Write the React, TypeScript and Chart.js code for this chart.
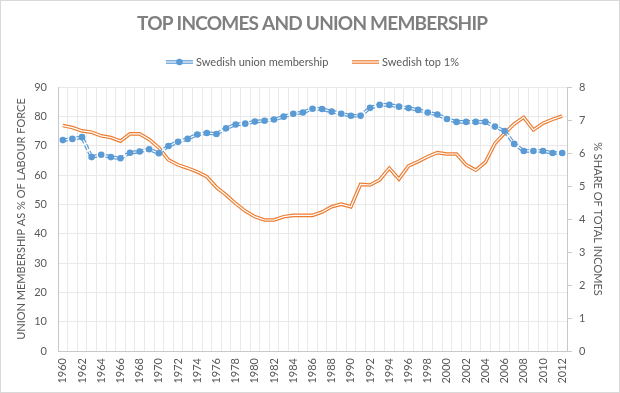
import React, { useEffect, useRef } from 'react';
import { Chart, registerables } from 'chart.js';
Chart.register(...registerables);

const years = [
  '1960','1961','1962','1963','1964','1965','1966','1967','1968','1969',
  '1970','1971','1972','1973','1974','1975','1976','1977','1978','1979',
  '1980','1981','1982','1983','1984','1985','1986','1987','1988','1989',
  '1990','1991','1992','1993','1994','1995','1996','1997','1998','1999',
  '2000','2001','2002','2003','2004','2005','2006','2007','2008','2009',
  '2010','2011','2012',
];

const unionMembership = [
  71.9, 72.3, 72.9, 66.1, 66.9, 66.1, 65.7, 67.6, 68.0, 68.8,
  67.4, 69.9, 71.3, 72.3, 73.8, 74.3, 74.0, 75.9, 77.2, 77.5,
  78.2, 78.5, 78.9, 79.9, 80.9, 81.3, 82.6, 82.5, 81.6, 80.9,
  80.2, 80.2, 82.9, 83.9, 83.9, 83.3, 82.8, 82.2, 81.3, 80.6,
  79.1, 78.1, 78.1, 78.1, 78.1, 76.5, 75.0, 70.6, 68.2, 68.2,
  68.2, 67.5, 67.5,
];

const top1Share = [
  6.83, 6.77, 6.67, 6.63, 6.52, 6.47, 6.36, 6.58, 6.58, 6.41,
  6.16, 5.79, 5.64, 5.54, 5.43, 5.28, 4.96, 4.73, 4.47, 4.24,
  4.07, 3.97, 3.97, 4.07, 4.11, 4.11, 4.11, 4.21, 4.37, 4.45,
  4.37, 5.05, 5.03, 5.19, 5.54, 5.21, 5.61, 5.74, 5.89, 6.01,
  5.97, 5.97, 5.64, 5.48, 5.72, 6.29, 6.60, 6.88, 7.08, 6.70,
  6.90, 7.02, 7.12,
];

const TITLE = 'TOP INCOMES AND UNION MEMBERSHIP';
const SERIES_UNION = 'Swedish union membership';
const SERIES_TOP = 'Swedish top 1%';
const LEFT_TITLE = 'UNION MEMBERSHIP AS % OF LABOUR FORCE';
const RIGHT_TITLE = '% SHARE OF TOTAL INCOMES';

const BLUE = '#5B9BD5';
const ORANGE = '#ED7D31';
const TEXT = '#595959';
const GRID = '#e9e9e9';
const AXIS = '#c8c8c8';
const FONT = 'Lato';

const decorPlugin = {
  id: 'decor',
  afterDraw(chart: any) {
    const ctx = chart.ctx as CanvasRenderingContext2D;
    ctx.save();
    // border
    ctx.strokeStyle = '#d9d9d9';
    ctx.lineWidth = 1;
    ctx.strokeRect(0.5, 0.5, chart.width - 1, chart.height - 1);

    // title
    ctx.font = `bold 19px ${FONT}`;
    ctx.fillStyle = '#7f7f7f';
    ctx.textBaseline = 'middle';
    ctx.textAlign = 'left';
    const targetW = 351;
    (ctx as any).letterSpacing = '0px';
    const w0 = ctx.measureText(TITLE).width;
    const ls = (targetW - w0) / (TITLE.length - 1);
    (ctx as any).letterSpacing = `${ls}px`;
    ctx.fillText(TITLE, 137, 24);
    (ctx as any).letterSpacing = '0px';

    // legend
    const ly = 62;
    const drawSample = (x: number, color: string, marker: boolean) => {
      ctx.lineCap = 'butt';
      ctx.strokeStyle = color;
      ctx.lineWidth = 3.6;
      ctx.beginPath();
      ctx.moveTo(x, ly);
      ctx.lineTo(x + 27, ly);
      ctx.stroke();
      ctx.strokeStyle = '#ffffff';
      ctx.lineWidth = 1.2;
      ctx.beginPath();
      ctx.moveTo(x, ly);
      ctx.lineTo(x + 27, ly);
      ctx.stroke();
      if (marker) {
        ctx.fillStyle = color;
        ctx.beginPath();
        ctx.arc(x + 13.5, ly, 3.3, 0, Math.PI * 2);
        ctx.fill();
      }
    };
    drawSample(166, BLUE, true);
    drawSample(352, ORANGE, false);
    ctx.font = `11px ${FONT}`;
    ctx.fillStyle = TEXT;
    ctx.textBaseline = 'middle';
    ctx.fillText(SERIES_UNION, 196, ly);
    ctx.fillText(SERIES_TOP, 382, ly);
    ctx.restore();
  },
};

export default function App() {
  const ref = useRef<HTMLCanvasElement | null>(null);

  useEffect(() => {
    document.body.style.margin = '0';
    const canvas = ref.current;
    if (!canvas) return;
    const tickFont = { family: FONT, size: 11 };
    const chart = new Chart(canvas, {
      type: 'line',
      data: {
        labels: years,
        datasets: [
          {
            label: SERIES_UNION,
            data: unionMembership,
            yAxisID: 'y',
            showLine: false,
            pointRadius: 3.3,
            pointBackgroundColor: BLUE,
            pointBorderWidth: 0,
            borderColor: BLUE,
            order: 0,
          },
          {
            label: 'union-inner',
            data: unionMembership,
            yAxisID: 'y',
            borderColor: '#ffffff',
            borderWidth: 1.2,
            pointRadius: 0,
            tension: 0,
            order: 1,
          },
          {
            label: 'union-outer',
            data: unionMembership,
            yAxisID: 'y',
            borderColor: BLUE,
            borderWidth: 3.6,
            borderDash: [5, 2],
            pointRadius: 0,
            tension: 0,
            order: 2,
          },
          {
            label: 'top-inner',
            data: top1Share,
            yAxisID: 'y1',
            borderColor: '#ffffff',
            borderWidth: 1.2,
            pointRadius: 0,
            tension: 0,
            order: 3,
          },
          {
            label: SERIES_TOP,
            data: top1Share,
            yAxisID: 'y1',
            borderColor: ORANGE,
            borderWidth: 3.6,
            pointRadius: 0,
            tension: 0,
            order: 4,
          },
        ],
      },
      options: {
        responsive: false,
        animation: false,
        devicePixelRatio: 1,
        layout: { padding: { top: 87, left: 0, right: 0, bottom: 0 } },
        plugins: {
          legend: { display: false },
          title: { display: false },
          tooltip: { enabled: false },
        },
        scales: {
          x: {
            type: 'category',
            offset: true,
            grid: { offset: true, color: GRID, drawTicks: false },
            border: { color: AXIS },
            ticks: {
              autoSkip: false,
              maxRotation: 90,
              minRotation: 90,
              padding: 7,
              color: TEXT,
              font: tickFont,
              callback: (_v: any, i: number) => (i % 2 === 0 ? years[i] : ''),
            },
            afterFit: (s: any) => {
              s.height = 42;
            },
          },
          y: {
            position: 'left',
            min: 0,
            max: 90,
            ticks: { stepSize: 10, padding: 11, color: TEXT, font: tickFont },
            grid: { color: GRID, drawTicks: false },
            border: { color: AXIS },
            title: {
              display: true,
              text: LEFT_TITLE,
              color: TEXT,
              font: tickFont,
              padding: { top: 15, bottom: 0 },
            },
            afterFit: (s: any) => {
              s.width = 58;
            },
          },
          y1: {
            position: 'right',
            min: 0,
            max: 8,
            ticks: { stepSize: 1, padding: 7, color: TEXT, font: tickFont },
            grid: { drawOnChartArea: false, drawTicks: true, tickLength: 5, color: AXIS },
            border: { color: AXIS },
            title: {
              display: true,
              text: RIGHT_TITLE,
              color: TEXT,
              font: tickFont,
              padding: { top: 16, bottom: 0 },
            },
            afterFit: (s: any) => {
              s.width = 53;
            },
          },
        },
      },
      plugins: [decorPlugin],
    } as any);
    return () => chart.destroy();
  }, []);

  return (
    <div style={{ width: 620, height: 393, position: 'relative', background: '#fff' }}>
      <canvas ref={ref} width={620} height={393} style={{ display: 'block', width: 620, height: 393 }} />
    </div>
  );
}
